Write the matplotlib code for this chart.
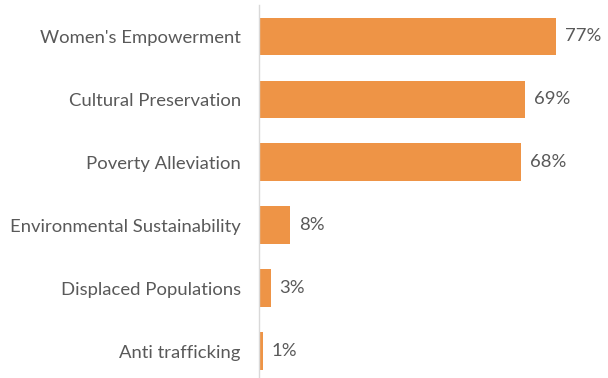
import matplotlib
matplotlib.use("Agg")
import matplotlib.pyplot as plt

categories = [
    "Women's Empowerment",
    "Cultural Preservation",
    "Poverty Alleviation",
    "Environmental Sustainability",
    "Displaced Populations",
    "Anti trafficking",
]
values = [77, 69, 68, 8, 3, 1]

BAR_COLOR = "#EE9446"
TEXT_COLOR = "#595959"
FONT_SIZE = 13.3

plt.rcParams["font.family"] = ["Lato", "DejaVu Sans"]

fig = plt.figure(figsize=(6.08, 3.78), dpi=100)
ax = fig.add_axes([259 / 608, -4.5 / 378, 341 / 608, 377.5 / 378])

ypos = list(range(len(categories)))
ax.barh(ypos, values, height=0.6, color=BAR_COLOR, edgecolor="none")

for y, v in zip(ypos, values):
    ax.text(v + 2.3, y, f"{v}%", va="center", ha="left",
            fontsize=FONT_SIZE, color=TEXT_COLOR)

ax.set_xlim(0, 88.4)
ax.set_ylim(len(categories) - 0.5, -0.5)
ax.set_yticks(ypos)
ax.set_yticklabels(categories, fontsize=FONT_SIZE, color=TEXT_COLOR)
ax.tick_params(axis="y", length=0, pad=13)
ax.set_xticks([])

for side in ["top", "right", "bottom"]:
    ax.spines[side].set_visible(False)
ax.spines["left"].set_color("#D9D9D9")
ax.spines["left"].set_linewidth(1.0)

fig.savefig("out.png", dpi=100)
